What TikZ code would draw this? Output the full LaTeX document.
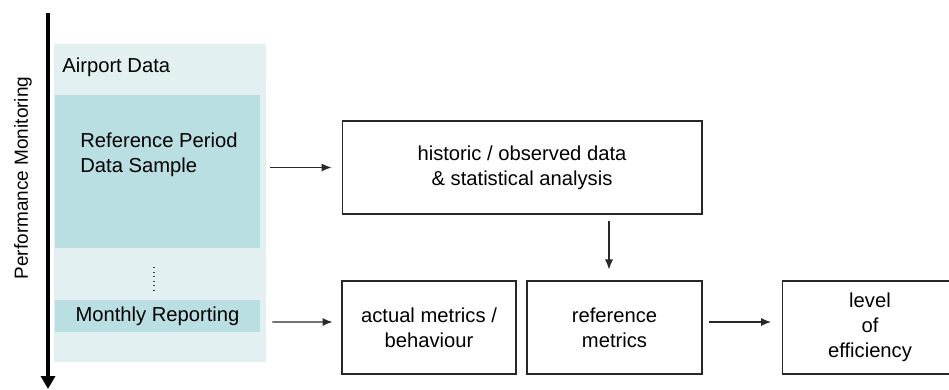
\documentclass[tikz,border=0pt]{standalone}
\usepackage{fontspec}
\setmainfont{Liberation Sans}
\usepackage{tikz}
\usetikzlibrary{positioning,arrows.meta}
\definecolor{fondo}{RGB}{226,240,241}
\definecolor{muestra}{RGB}{185,223,226}
\definecolor{borde}{RGB}{40,40,40}

\begin{document}
\begin{tikzpicture}[
  x=0.02cm, y=-0.02cm,
  caja/.style={draw=borde, line width=0.6pt, minimum height=1.86cm,
    minimum width=#1, align=center, inner sep=2pt,
    font=\fontsize{11.5}{14.2}\selectfont},
  panel/.style={fill=#1, inner sep=0pt},
  texto/.style={font=\fontsize{11.5}{14.2}\selectfont, inner sep=0pt},
  flecha/.style={-{Latex[length=0.2cm,width=0.16cm]}, line width=0.6pt,
    draw=borde},
]
  \useasboundingbox (0,0) rectangle (949,389);
  % ---- Datos del aeropuerto (izquierda) ----
  \node[panel=fondo, minimum width=4.24cm, minimum height=6.36cm]
    (aero) at (160,203) {};
  \node[texto, anchor=west] (aerot) at (62,67) {Airport Data};
  \node[panel=muestra, minimum width=4.1cm, minimum height=3.06cm]
    (muestra) at (157.5,171.5) {};
  \node[texto, anchor=west, align=left] (muestrat) at (80,155)
    {Reference Period\\Data Sample};
  \node[panel=muestra, texto, minimum width=4.1cm, minimum height=0.64cm]
    (mensual) at (157.5,316) {Monthly Reporting};
  \draw[dotted, line width=0.6pt, draw=black!75] (154,267) -- (154,292);
  % ---- Eje de seguimiento ----
  \coordinate (eje1) at (48,13);
  \coordinate (eje2) at (48,389);
  \draw[line width=0.08cm, -{Triangle[length=0.26cm,width=0.28cm]}]
    (eje1) -- (eje2);
  \node[texto, rotate=90, font=\fontsize{10.8}{13}\selectfont]
    (ejet) at (23,178) {Performance Monitoring};
  % ---- Cajas de proceso ----
  \node[caja=7.2cm] (hist) at (522,167.5)
    {historic / observed data\\\& statistical analysis};
  \node[caja=3.48cm] (actual) at (429,327.5)
    {actual metrics /\\behaviour};
  \node[caja=3.5cm] (refm) at (614.5,327.5)
    {reference\\metrics};
  % la caja final sale del borde derecho
  \node[caja=4.4cm, anchor=west] (nivel) at (782,327.5) {};
  \node[texto, align=center] (nivelt) at (870,327.5)
    {level\\of\\efficiency};
  % ---- Flechas ----
  \draw[flecha, shorten <=0.2cm, shorten >=0.2cm]
    (muestra.east |- hist.west) -- (hist.west);
  \draw[flecha, shorten <=0.24cm, shorten >=0.18cm]
    ([yshift=-0.12cm]mensual.east) -- ([yshift=0.11cm]actual.west);
  \draw[flecha, shorten <=0.12cm, shorten >=0.22cm]
    ([xshift=-0.11cm]refm.north |- hist.south) -- ([xshift=-0.11cm]refm.north);
  \draw[flecha, shorten <=0.12cm, shorten >=0.22cm]
    ([yshift=0.11cm]refm.east) -- ([yshift=0.11cm]nivel.west);
\end{tikzpicture}
\end{document}
